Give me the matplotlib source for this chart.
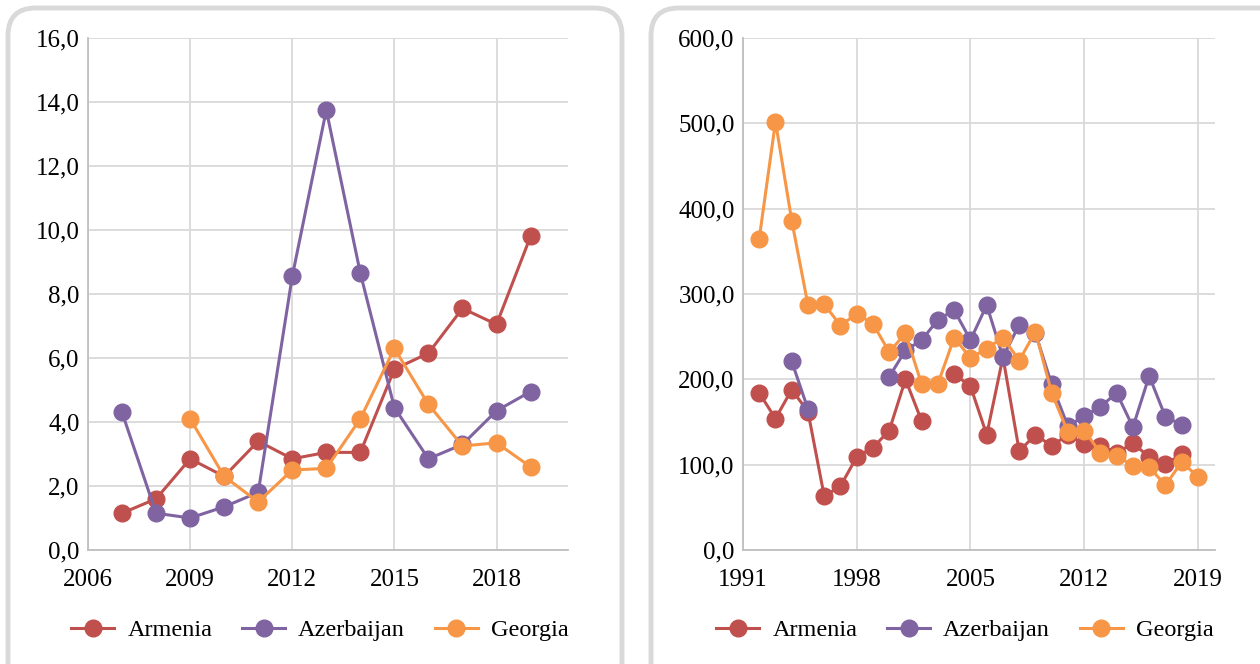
import numpy as np
import matplotlib
matplotlib.use("Agg")
import matplotlib.pyplot as plt
from matplotlib.patches import FancyBboxPatch
from matplotlib.ticker import FuncFormatter

plt.rcParams['font.family'] = 'serif'
plt.rcParams['font.serif'] = ['Liberation Serif', 'DejaVu Serif']

nan = np.nan

# panel izquierdo 2007-2019
anios_a = list(range(2007, 2020))
armenia_a = [1.15, 1.6, 2.85, 2.3, 3.4, 2.85, 3.05, 3.05, 5.65, 6.15, 7.55, 7.05, 9.8]
azerbaijan_a = [4.3, 1.15, 1.0, 1.35, 1.8, 8.55, 13.75, 8.65, 4.45, 2.85, 3.3, 4.35, 4.95]
georgia_a = [nan, nan, 4.1, 2.3, 1.5, 2.5, 2.55, 4.1, 6.3, 4.55, 3.25, 3.35, 2.6]

# panel derecho 1992-2019
anios_b = list(range(1992, 2020))
armenia_b = [184, 154, 188, 162, 63, 75, 109, 120, 140, 200, 151, nan, 206, 192,
             135, 226, 116, 135, 122, 135, 124, 122, 114, 125, 109, 101, 112, nan]
azerbaijan_b = [nan, nan, 221, 165, nan, nan, nan, nan, 203, 234, 246, 270, 281, 246,
                287, 226, 264, 254, 194, 145, 157, 168, 184, 144, 204, 156, 147, nan]
georgia_b = [365, 502, 386, 287, 288, 263, 277, 265, 232, 254, 194, 195, 249, 225,
             236, 249, 222, 256, 184, 138, 140, 114, 110, 99, 97, 76, 103, 86]

paises = ['Armenia', 'Azerbaijan', 'Georgia']
colores = ['#C0504D', '#8064A2', '#F79646']

fig = plt.figure(figsize=(12.6, 6.64), dpi=100)

# marcos redondeados (por debajo de los ejes)
for x0, w in [(8, 614), (651, 640)]:
    caja = FancyBboxPatch((x0 / 1260, -0.2), w / 1260, (664 - 8) / 664 + 0.2,
                          boxstyle="round,pad=0,rounding_size=0.022",
                          transform=fig.transFigure, facecolor='white',
                          edgecolor='#D9D9D9', linewidth=3.5, zorder=-1,
                          mutation_aspect=1260 / 664)
    fig.patches.append(caja)

fmt = FuncFormatter(lambda v, p: f"{v:.1f}".replace('.', ','))


def panel(rect, anios, series, xlim, xticks, ylim, yticks, centro):
    ax = fig.add_axes(rect)
    ax.patch.set_alpha(0)
    for datos, nombre, c in zip(series, paises, colores):
        ax.plot(anios, datos, color=c, lw=2.2, marker='o', markersize=12,
                label=nombre, zorder=3)
    ax.set_xlim(*xlim)
    ax.set_ylim(*ylim)
    ax.set_xticks(xticks)
    ax.set_yticks(yticks)
    ax.yaxis.set_major_formatter(fmt)
    ax.grid(True, color='#D9D9D9', lw=1.3, zorder=0)
    ax.set_axisbelow(True)
    for s in ['top', 'right']:
        ax.spines[s].set_visible(False)
    for s in ['left', 'bottom']:
        ax.spines[s].set_color('#BFBFBF')
        ax.spines[s].set_linewidth(1.3)
    ax.tick_params(length=0, labelsize=18, colors='black')
    ax.tick_params(axis='y', pad=6)
    ax.tick_params(axis='x', pad=14)
    ax.legend(loc='center', bbox_to_anchor=(centro, 0.051),
              bbox_transform=fig.transFigure, ncol=3, frameon=False,
              fontsize=17.5, handlelength=1.77, columnspacing=1.23,
              handletextpad=0.53)
    return ax


panel([88 / 1260, 114 / 664, 480 / 1260, 512 / 664], anios_a,
      [armenia_a, azerbaijan_a, georgia_a], (2006, 2020.1),
      [2006, 2009, 2012, 2015, 2018], (0, 16), np.arange(0, 17, 2), 320 / 1260)

panel([743 / 1260, 114 / 664, 472 / 1260, 512 / 664], anios_b,
      [armenia_b, azerbaijan_b, georgia_b], (1991, 2020.05),
      [1991, 1998, 2005, 2012, 2019], (0, 600), np.arange(0, 601, 100), 965 / 1260)

fig.savefig('out.png', dpi=100)
